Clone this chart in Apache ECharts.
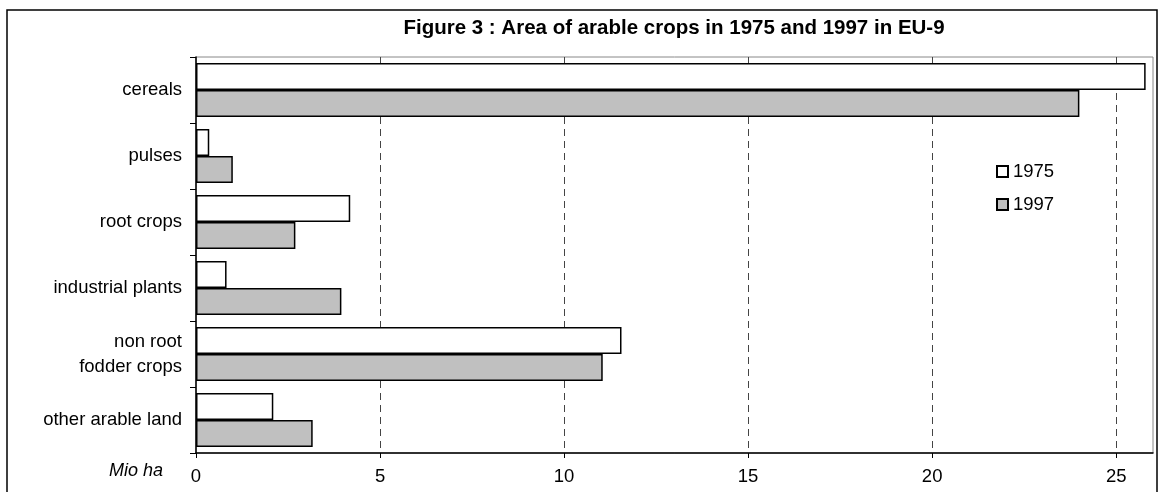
<!DOCTYPE html>
<html>
<head>
<meta charset="utf-8">
<script src="https://cdn.jsdelivr.net/npm/echarts@6/dist/echarts.min.js"></script>
<style>
  html, body { margin: 0; padding: 0; background: #fff; }
  #chart { width: 1160px; height: 492px; }
</style>
</head>
<body>
<div id="chart"></div>
<script>
// crop categories, top to bottom
const categories = ['cereals', 'pulses', 'root crops', 'industrial plants', 'non root\nfodder crops', 'other arable land']
// area in Mio ha
const area1975 = [25.8, 0.36, 4.19, 0.83, 11.56, 2.1]
const area1997 = [24.0, 1.0, 2.7, 3.95, 11.05, 3.17]
const xTicks = [0, 5, 10, 15, 20, 25]

const font = 'Liberation Sans, Arial, sans-serif'

const chart = echarts.init(document.getElementById('chart'))

const option = {
  animation: false,
  backgroundColor: '#fff',
  textStyle: { fontFamily: font, color: '#000' },
  graphic: [
    {
      type: 'rect',
      shape: { x: 7, y: 10, width: 1150, height: 520 },
      style: { fill: 'none', stroke: '#000', lineWidth: 1.5 },
      silent: true
    },
    {
      type: 'text',
      x: 674,
      y: 28,
      style: {
        text: 'Figure 3 : Area of arable crops in 1975 and 1997 in EU-9',
        font: 'bold 20.5px ' + font,
        fill: '#000',
        align: 'center',
        verticalAlign: 'middle'
      }
    },
    {
      type: 'text',
      x: 163,
      y: 471,
      style: {
        text: 'Mio ha',
        font: 'italic 18px ' + font,
        fill: '#000',
        align: 'right',
        verticalAlign: 'middle'
      }
    }
  ],
  legend: {
    orient: 'vertical',
    left: 991,
    top: 157,
    itemWidth: 11,
    itemHeight: 11,
    itemGap: 14,
    icon: 'rect',
    textStyle: { fontSize: 18.5, color: '#000', fontFamily: font },
    data: ['1975', '1997']
  },
  grid: {
    left: 196,
    right: 7,
    top: 57,
    bottom: 39,
    show: true,
    borderColor: '#888',
    borderWidth: 1,
    containLabel: false
  },
  xAxis: {
    type: 'value',
    min: 0,
    max: 26,
    interval: 5,
    axisLine: { show: true, lineStyle: { color: '#000', width: 1.5 } },
    axisTick: { show: true, length: 5, lineStyle: { color: '#000' } },
    axisLabel: {
      fontSize: 18.5,
      color: '#000',
      margin: 14,
      showMaxLabel: false,
      formatter: v => (xTicks.includes(v) ? String(v) : '')
    },
    splitLine: {
      show: true,
      showMinLine: false,
      showMaxLine: false,
      lineStyle: { color: '#444', type: [7, 5], width: 1 }
    }
  },
  yAxis: {
    type: 'category',
    inverse: true,
    data: categories,
    axisLine: { show: true, lineStyle: { color: '#000', width: 1.5 } },
    axisTick: { show: true, length: 6, lineStyle: { color: '#000' } },
    axisLabel: { fontSize: 18.5, color: '#000', margin: 14, lineHeight: 25 },
    splitLine: { show: false }
  },
  series: [
    {
      name: '1975',
      type: 'bar',
      data: area1975,
      barWidth: 27,
      barGap: '0%',
      itemStyle: { color: '#ffffff', borderColor: '#000', borderWidth: 1.5 }
    },
    {
      name: '1997',
      type: 'bar',
      data: area1997,
      barWidth: 27,
      barGap: '0%',
      itemStyle: { color: '#c0c0c0', borderColor: '#000', borderWidth: 1.5 }
    }
  ]
}

chart.setOption(option)
window.addEventListener('resize', () => chart.resize())
</script>
</body>
</html>
